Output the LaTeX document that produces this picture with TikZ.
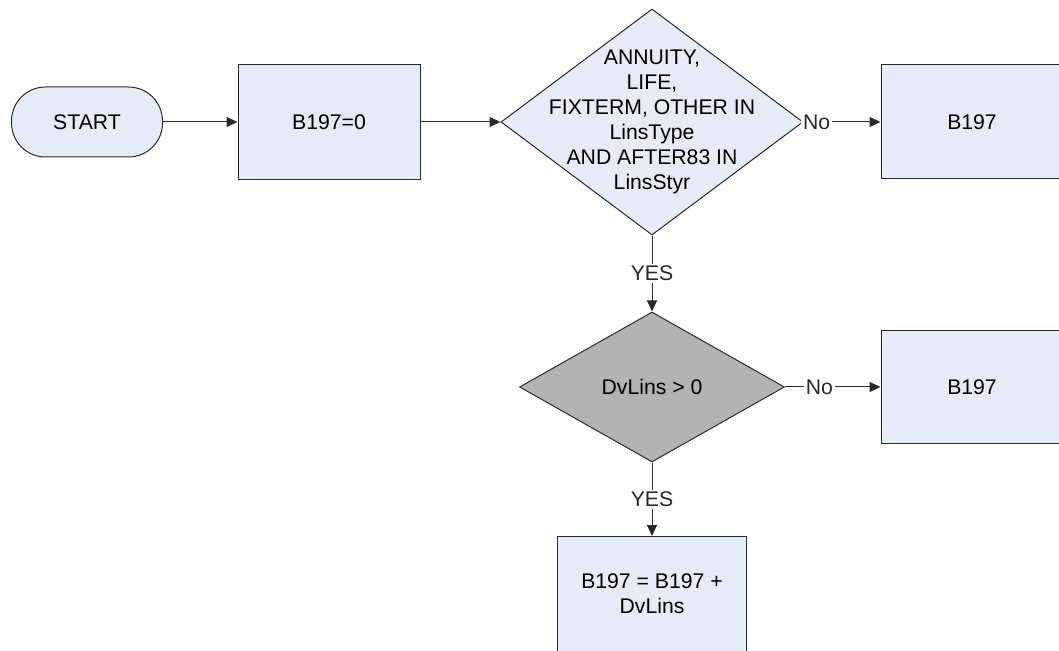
\documentclass[tikz,border=0pt]{standalone}
\usepackage{fontspec}
\setmainfont{Liberation Sans}
\usetikzlibrary{arrows.meta, positioning, shapes.geometric}
\definecolor{boxfill}{HTML}{E6ECF7}
\definecolor{decgray}{HTML}{B3B3B3}
\definecolor{edgegray}{HTML}{2A2A2A}

\begin{document}
\begin{tikzpicture}[x=0.5pt, y=-0.5pt,
  lbl/.style={font=\fontsize{10.6}{12.5}\selectfont},
  term/.style={rectangle, rounded corners=17pt,
    draw=edgegray, fill=boxfill, line width=0.5pt,
    minimum width=75.5pt, minimum height=35pt, lbl},
  proc/.style={rectangle, draw=edgegray, fill=boxfill, line width=0.5pt,
    minimum width=91pt, minimum height=57.5pt, align=center, lbl},
  dec/.style={diamond, draw=edgegray, fill=boxfill, line width=0.5pt,
    inner sep=0pt, align=center, lbl},
  dectext/.style={align=center, inner sep=0pt, lbl},
  yn/.style={fill=white, inner sep=1pt, lbl},
  arr/.style={-{Triangle[length=5.5pt, width=5pt]}, edgegray, line width=0.5pt},
]
\useasboundingbox (0,0) rectangle (1059,651);
% start and first assignment
\node[term] (start) at (87,122) {START};
\node[proc] (init) at (329,122) {B197=0};
\draw[arr] (start) -- (init);
% first test
\node[dec, minimum width=151pt, minimum height=113pt] (qtype) at (652,122) {};
\node[dectext] (qtypetxt) at (qtype.center)
  {ANNUITY,\\ LIFE,\\ FIXTERM, OTHER IN\\ LinsType\\ AND AFTER83 IN\\ LinsStyr};
\draw[arr] (init) -- (qtype);
\node[proc, minimum height=57pt] (nores1) at (972,122) {B197};
\draw[arr] (qtype) -- node[yn, pos=0.17] {No} (nores1);
% second test
\node[dec, fill=decgray, minimum width=132.5pt, minimum height=75pt] (qdv) at (652,387) {DvLins > 0};
\draw[arr] (qtype) -- node[yn] {YES} (qdv);
\node[proc, minimum height=56.5pt] (nores2) at (972,387) {B197};
\draw[arr] (qdv) -- node[yn, pos=0.36] {No} (nores2);
% accumulate
\node[proc, minimum width=94.5pt] (accum) at (652,594) {B197 = B197 +\\ DvLins};
\draw[arr] (qdv) -- node[yn] {YES} (accum);
\end{tikzpicture}
\end{document}
